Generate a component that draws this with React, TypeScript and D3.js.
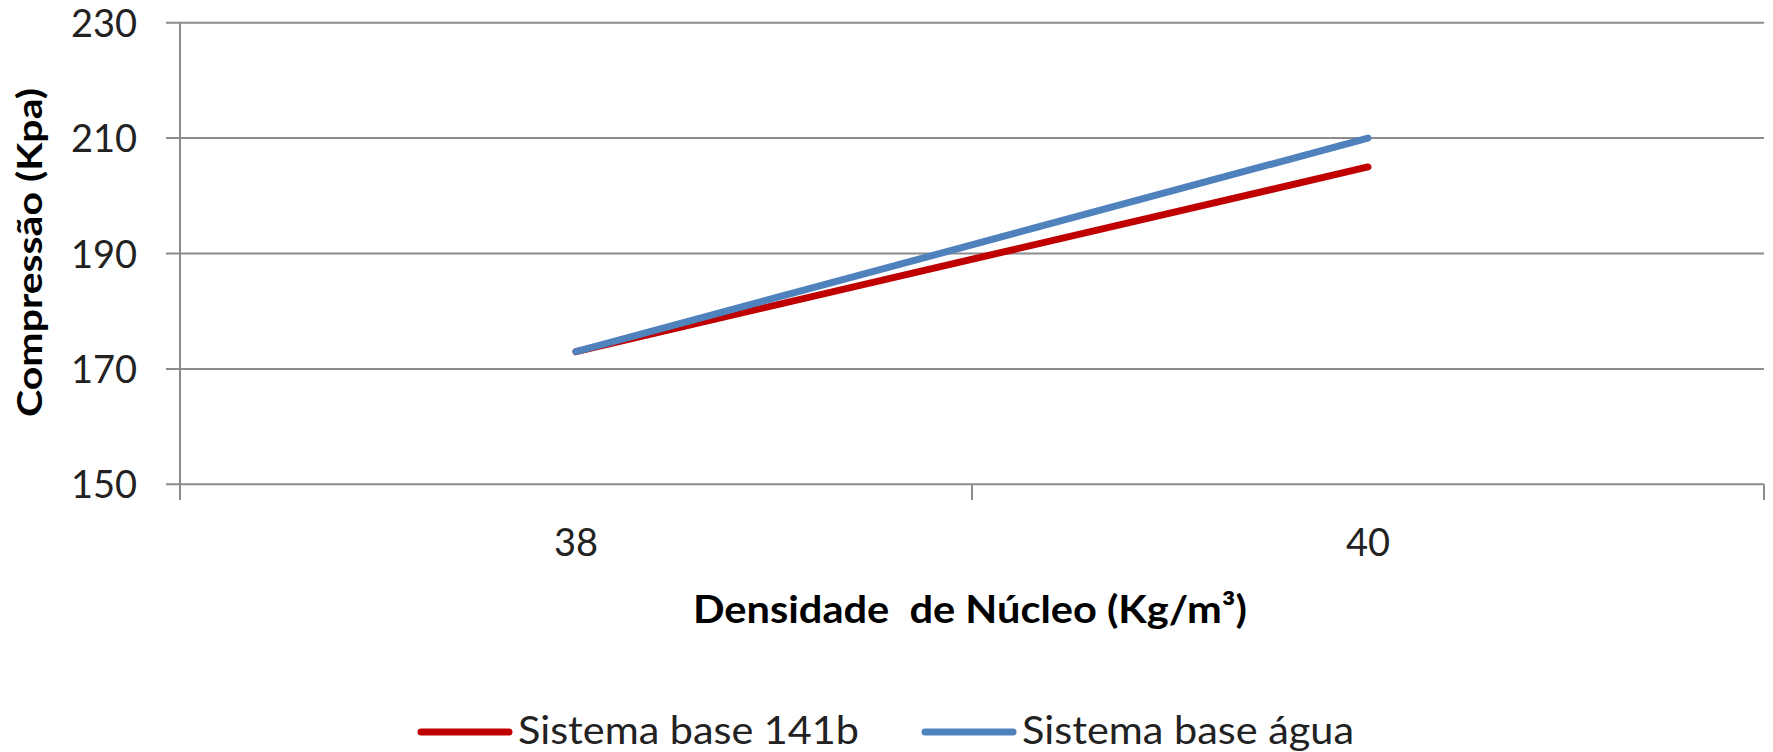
import React from "react";
import * as d3 from "d3";

const categories = ["38", "40"];
const series141b = [173, 205];
const seriesAgua = [173, 210];
const yTicks = [150, 170, 190, 210, 230];
const seriesNames = ["Sistema base 141b", "Sistema base água"];
const seriesColors = ["#C00000", "#4F81BD"];

const W = 1773;
const H = 752;
const left = 180;
const right = 1764;
const top = 22.7;
const bottom = 484.3;
const FONT = "Lato, 'Open Sans', sans-serif";

export default function App() {
  const x = d3.scaleBand<string>().domain(categories).range([left, right]).padding(0);
  const y = d3.scaleLinear().domain([150, 230]).range([bottom, top]);
  const line = d3
    .line<number>()
    .x((_, i) => (x(categories[i]) as number) + x.bandwidth() / 2)
    .y((v) => y(v));
  const allSeries = [series141b, seriesAgua];
  const boundaries = [left, ...categories.map((c) => (x(c) as number) + x.bandwidth())];
  const grid = "#8c8c8c";
  const legendX = [418, 922];
  const legendW = [341, 332];

  return (
    <svg
      width={W}
      height={H}
      style={{ position: "absolute", left: 0, top: 0, background: "#fff" }}
      fontFamily={FONT}
    >
      {yTicks.map((t) => (
        <g key={t}>
          <line x1={166} x2={right} y1={y(t)} y2={y(t)} stroke={grid} strokeWidth={2} />
          <text x={137} y={y(t)} dy="0.37em" textAnchor="end" fontSize={38} fill="#222">
            {t}
          </text>
        </g>
      ))}
      <line x1={left} x2={left} y1={top} y2={500} stroke={grid} strokeWidth={2} />
      {boundaries.map((b, i) => (
        <line key={i} x1={b} x2={b} y1={bottom} y2={500} stroke={grid} strokeWidth={2} />
      ))}
      {categories.map((c) => (
        <text
          key={c}
          x={(x(c) as number) + x.bandwidth() / 2}
          y={556}
          textAnchor="middle"
          fontSize={38}
          fill="#222"
        >
          {c}
        </text>
      ))}
      {allSeries.map((s, i) => (
        <path
          key={i}
          d={line(s) as string}
          fill="none"
          stroke={seriesColors[i]}
          strokeWidth={7}
          strokeLinecap="round"
          strokeLinejoin="round"
        />
      ))}
      <text
        x={693}
        y={623}
        fontSize={38}
        fontWeight="bold"
        fill="#000"
        textLength={554}
        lengthAdjust="spacingAndGlyphs"
        style={{ whiteSpace: "pre" }}
      >
        {"Densidade  de Núcleo (Kg/m³)"}
      </text>
      <text
        transform={`translate(42,417) rotate(-90)`}
        fontSize={34}
        fontWeight="bold"
        fill="#000"
        textLength={329}
        lengthAdjust="spacingAndGlyphs"
      >
        Compressão (Kpa)
      </text>
      {seriesNames.map((n, i) => {
        const lx = legendX[i];
        return (
          <g key={n}>
            <line x1={lx + 3} x2={lx + 91} y1={732} y2={732} stroke={seriesColors[i]} strokeWidth={7} strokeLinecap="round" />
            <text
              x={lx + 100}
              y={744}
              fontSize={38}
              fill="#222"
              textLength={legendW[i]}
              lengthAdjust="spacingAndGlyphs"
            >
              {n}
            </text>
          </g>
        );
      })}
    </svg>
  );
}
